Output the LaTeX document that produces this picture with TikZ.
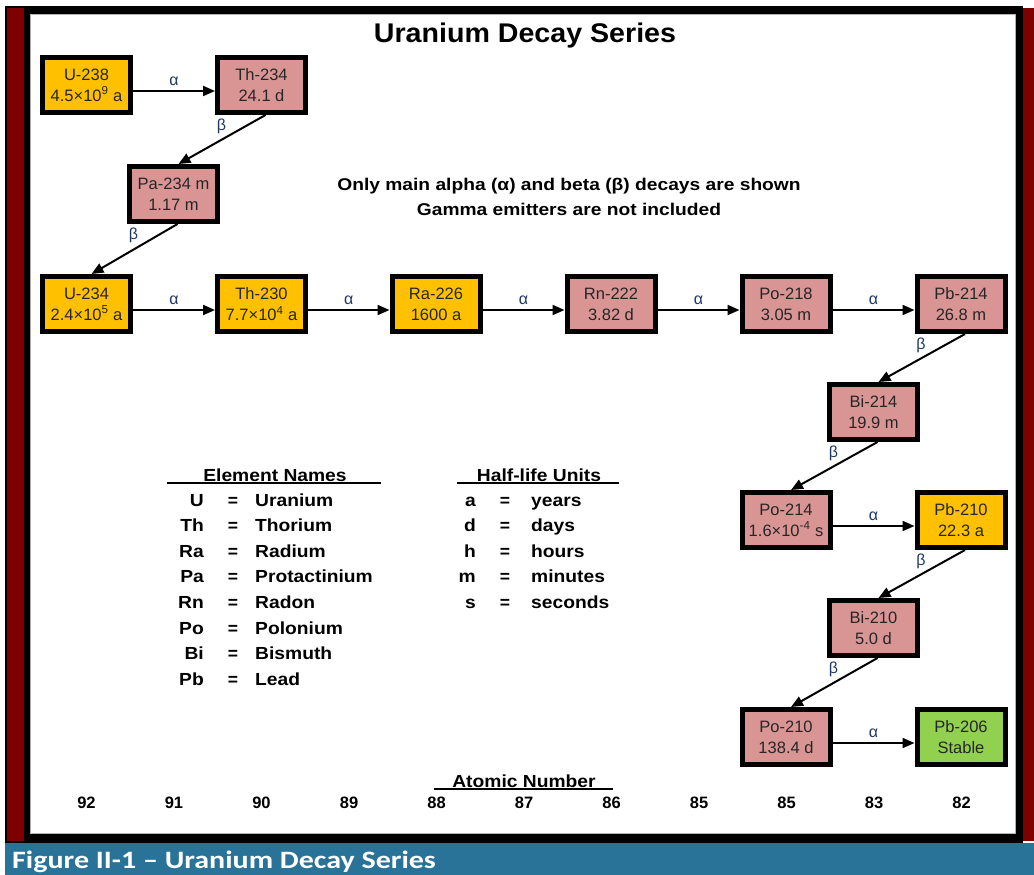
\documentclass[tikz,border=0pt]{standalone}
\usepackage{fontspec}
\setmainfont{Liberation Sans}
\newfontfamily\capfont{Carlito}
\usetikzlibrary{arrows.meta,calc}
\definecolor{frmred}{HTML}{7F0000}
\definecolor{capteal}{HTML}{287397}
\definecolor{orng}{HTML}{FFC000}
\definecolor{pnk}{HTML}{D99594}
\definecolor{grn}{HTML}{92D050}
\definecolor{lblue}{HTML}{1F3864}
\newcommand{\wide}[2]{\scalebox{#1}[1]{#2}}
\begin{document}
\begin{tikzpicture}[x=1pt,y=-1pt,
  nuc/.style={draw=black, line width=5pt, minimum width=88pt, minimum height=55pt,
    inner sep=0pt, align=center, text=black!85, font=\fontsize{16.5}{21}\selectfont},
  orn/.style={nuc, fill=orng},
  pk/.style={nuc, fill=pnk},
  gr/.style={nuc, fill=grn},
  arr/.style={line width=2pt, -{Triangle[length=12pt,width=10pt]}},
  lbl/.style={text=lblue, font=\fontsize{16}{18}\selectfont, inner sep=1pt},
  leg/.style={font=\fontsize{17.5}{20}\selectfont\bfseries, inner sep=0pt, anchor=base},
  legl/.style={leg, anchor=base west},
  legr/.style={leg, anchor=base east},
  anum/.style={font=\fontsize{16.5}{20}\selectfont\bfseries, inner sep=0pt, anchor=base},
  hline/.style={line width=2.5pt}
]
\useasboundingbox (0,0) rectangle (1034,875);
% frame
\fill[white] (0,0) rectangle (1034,875);
\fill[black] (5,6) rectangle (1023,843);
\fill[white] (30,14) rectangle (1015,833);
\draw[gray!60, line width=0.8pt] (30,14) rectangle (1015,833);
\fill[frmred] (7,8) rectangle (24,841);
\fill[frmred] (1023,8) rectangle (1034,841);
\fill[capteal] (5,843) rectangle (1034,875);
\node[anchor=base west, inner sep=0pt, text=white, font=\capfont\fontsize{25}{28}\selectfont\bfseries]
  (cap) at (12,868) {\wide{1.2}{Figure II-1 – Uranium Decay Series}};

% title and note
\node[anchor=base, inner sep=0pt, font=\fontsize{27}{30}\selectfont\bfseries] (title) at (525,43) {\wide{1.06}{Uranium Decay Series}};
\node[anchor=base, inner sep=0pt, font=\fontsize{17}{25}\selectfont\bfseries] (note1) at (569,190)
  {\wide{1.13}{Only main alpha (α) and beta (β) decays are shown}};
\node[anchor=base, inner sep=0pt, font=\fontsize{17}{25}\selectfont\bfseries] (note2) at (569,215)
  {\wide{1.13}{Gamma emitters are not included}};

% nuclides
\node[orn] (u238)  at (86.5,85)  {U-238\\4.5×10\textsuperscript{9} a};
\node[pk]  (th234) at (261.5,85) {Th-234\\24.1 d};
\node[pk]  (pa234) at (173.5,194) {Pa-234 m\\1.17 m};
\node[orn] (u234)  at (86.5,304) {U-234\\2.4×10\textsuperscript{5} a};
\node[orn] (th230) at (261.5,304) {Th-230\\7.7×10\textsuperscript{4} a};
\node[orn] (ra226) at (436,304) {Ra-226\\1600 a};
\node[pk]  (rn222) at (611,304) {Rn-222\\3.82 d};
\node[pk]  (po218) at (786,304) {Po-218\\3.05 m};
\node[pk]  (pb214) at (961,304) {Pb-214\\26.8 m};
\node[pk]  (bi214) at (873.5,412) {Bi-214\\19.9 m};
\node[pk]  (po214) at (786,520) {Po-214\\1.6×10\textsuperscript{-4} s};
\node[orn] (pb210) at (961,520) {Pb-210\\22.3 a};
\node[pk]  (bi210) at (873.5,628) {Bi-210\\5.0 d};
\node[pk]  (po210) at (786,737) {Po-210\\138.4 d};
\node[gr]  (pb206) at (961,737) {Pb-206\\Stable};

% alpha decays
\foreach \a/\b in {u238/th234, u234/th230, th230/ra226, ra226/rn222, rn222/po218, po218/pb214, po214/pb210, po210/pb206}{
  \draw[arr] ($(\a.east)+(0,6)$) -- node[lbl, above=3pt, pos=0.5]{α} ($(\b.west)+(0,6)$);
}
% beta decays
\foreach \a/\b in {th234/pa234, pa234/u234, pb214/bi214, bi214/po214, pb210/bi210, bi210/po210}{
  \draw[arr] ($(\a.south)+(4,0)$) -- node[lbl, pos=0, xshift=-44pt, yshift=-11pt]{β} ($(\b.north)+(5,0)$);
}

% legend: element names
\node[leg] (enh) at (275,481) {\wide{1.1}{Element Names}};
\coordinate (enl) at (167,483);
\coordinate (enr) at (381,483);
\draw[hline] (enl) -- (enr);
\foreach \s/\n [count=\i from 0] in {U/Uranium, Th/Thorium, Ra/Radium, Pa/Protactinium, Rn/Radon, Po/Polonium, Bi/Bismuth, Pb/Lead}{
  \node[legr] (es\i) at (204,506+25.6*\i) {\wide{1.1}{\s}};
  \node[leg]  (ee\i) at (233,506+25.6*\i) {=};
  \node[legl] (en\i) at (255,506+25.6*\i) {\wide{1.1}{\n}};
}
% legend: half-life units
\node[leg] (huh) at (539,481) {\wide{1.1}{Half-life Units}};
\coordinate (hul) at (457,483);
\coordinate (hur) at (619,483);
\draw[hline] (hul) -- (hur);
\foreach \s/\n [count=\i from 0] in {a/years, d/days, h/hours, m/minutes, s/seconds}{
  \node[legr] (hs\i) at (476,506+25.6*\i) {\wide{1.1}{\s}};
  \node[leg]  (he\i) at (505,506+25.6*\i) {=};
  \node[legl] (hn\i) at (531,506+25.6*\i) {\wide{1.1}{\n}};
}

% atomic numbers
\node[leg] (anh) at (524,787) {\wide{1.1}{Atomic Number}};
\coordinate (anl) at (434,789);
\coordinate (anr) at (613,789);
\draw[hline] (anl) -- (anr);
\foreach \z [count=\i from 0] in {92,91,90,89,88,87,86,85,85,83,82}{
  \node[anum] (z\i) at (86.5+87.5*\i,808) {\z};
}
\end{tikzpicture}
\end{document}
